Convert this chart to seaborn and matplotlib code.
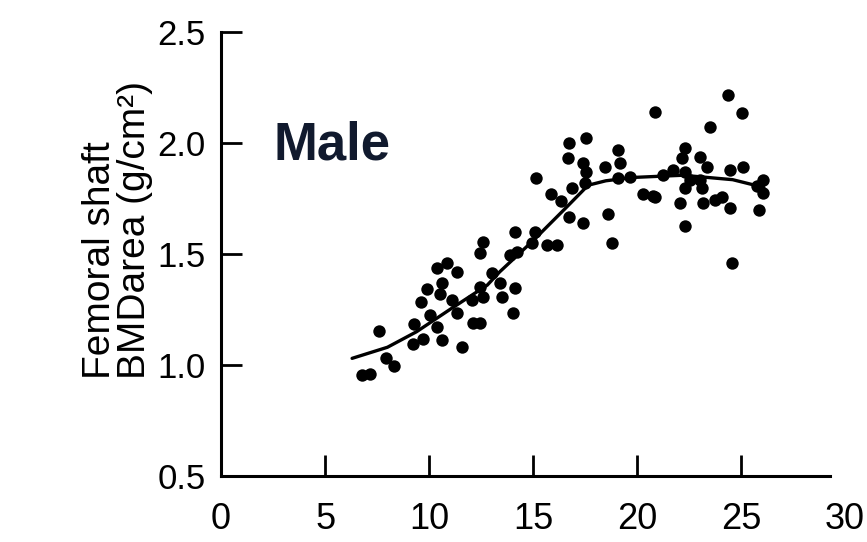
import matplotlib
matplotlib.use("Agg")
import matplotlib.pyplot as plt
import seaborn as sns

# scatter points: age (years) vs femoral shaft BMD (g/cm2)
age = [6.78, 7.16, 7.60, 7.93, 8.32, 9.28, 9.23, 9.71, 9.62, 9.90,
       10.05, 10.38, 10.63, 10.38, 10.87, 11.35, 10.63, 10.53, 11.11, 11.35,
       11.59, 12.07, 12.12, 12.45, 12.45, 12.60, 12.45, 12.60, 13.03, 13.41,
       13.51, 14.13, 14.04, 13.89, 14.13, 14.23, 15.10, 14.95, 15.67, 16.15,
       16.73, 17.55, 16.68, 17.40, 17.55, 18.46, 19.09, 19.18, 15.14, 15.87,
       16.35, 16.88, 17.50, 19.09, 19.66, 20.29, 20.77, 16.73, 17.40, 18.61,
       18.80, 20.87, 24.38, 25.05, 23.51, 22.31, 22.16, 23.03, 23.37, 21.25,
       21.73, 22.31, 22.55, 24.47, 25.10, 23.03, 23.13, 22.31, 26.06, 26.06,
       25.77, 20.87, 22.07, 23.17, 23.75, 24.09, 24.47, 25.87, 22.31, 24.57]
bmd = [0.955, 0.959, 1.153, 1.032, 0.995, 1.185, 1.095, 1.117, 1.284, 1.342,
       1.225, 1.171, 1.113, 1.437, 1.459, 1.419, 1.369, 1.320, 1.293, 1.234,
       1.081, 1.293, 1.189, 1.189, 1.351, 1.306, 1.505, 1.554, 1.414, 1.369,
       1.306, 1.347, 1.234, 1.495, 1.599, 1.509, 1.599, 1.550, 1.541, 1.541,
       2.000, 2.023, 1.932, 1.910, 1.869, 1.892, 1.968, 1.910, 1.842, 1.770,
       1.739, 1.797, 1.820, 1.842, 1.847, 1.770, 1.761, 1.667, 1.640, 1.680,
       1.550, 2.140, 2.216, 2.135, 2.072, 1.977, 1.932, 1.937, 1.892, 1.856,
       1.878, 1.869, 1.833, 1.878, 1.892, 1.833, 1.797, 1.797, 1.833, 1.775,
       1.806, 1.757, 1.730, 1.730, 1.743, 1.757, 1.707, 1.698, 1.626, 1.459]

# fitted curve
fit_age = [6.3, 8.0, 9.4, 11.0, 12.8, 13.4, 15.0, 16.6, 17.65, 18.5, 19.8, 22.2, 24.6, 26.1]
fit_bmd = [1.03, 1.08, 1.15, 1.25, 1.36, 1.42, 1.56, 1.71, 1.81, 1.83, 1.845, 1.855, 1.835, 1.80]

x_ticks = [0, 5, 10, 15, 20, 25, 30]
y_ticks = [0.5, 1.0, 1.5, 2.0, 2.5]

sns.set_style("ticks")
plt.rcParams['font.family'] = ['Liberation Sans', 'DejaVu Sans']

fig = plt.figure(figsize=(8.67, 5.42), dpi=100)
ax = fig.add_axes([0.255, 0.1218, 0.7196, 0.819])

sns.scatterplot(x=age, y=bmd, color='black', s=80, linewidth=0, ax=ax, zorder=3)
sns.lineplot(x=fit_age, y=fit_bmd, color='black', linewidth=2.4, ax=ax, zorder=2)

ax.set_xlim(0, 30)
ax.set_ylim(0.5, 2.5)
ax.set_xticks(x_ticks)
ax.set_yticks(y_ticks)
ax.set_xticklabels([str(t) for t in x_ticks])
ax.set_yticklabels([f"{t:.1f}" for t in y_ticks])
ax.tick_params(direction='in', length=15, width=2, color='black', labelcolor='black')
ax.tick_params(axis='x', pad=19, labelsize=26)
ax.tick_params(axis='y', pad=11, labelsize=25)
xt = ax.xaxis.get_major_ticks()
xt[0].tick1line.set_visible(False)
xt[-1].tick1line.set_visible(False)

sns.despine(ax=ax)
for side in ['left', 'bottom']:
    ax.spines[side].set_linewidth(2.2)
    ax.spines[side].set_color('black')
ax.spines['bottom'].set_bounds(0, 29.3)

fig.text(0.115, 0.30, "Femoral shaft", rotation=90, ha='center', va='bottom', fontsize=28, color='black')
fig.text(0.156, 0.30, "BMDarea (g/cm\u00b2)", rotation=90, ha='center', va='bottom', fontsize=28, color='black')

fig.text(0.315, 0.7066, "Male", ha='left', va='baseline', fontsize=38, fontweight='bold', color='#111a2e')

fig.savefig("out.png", dpi=100)
